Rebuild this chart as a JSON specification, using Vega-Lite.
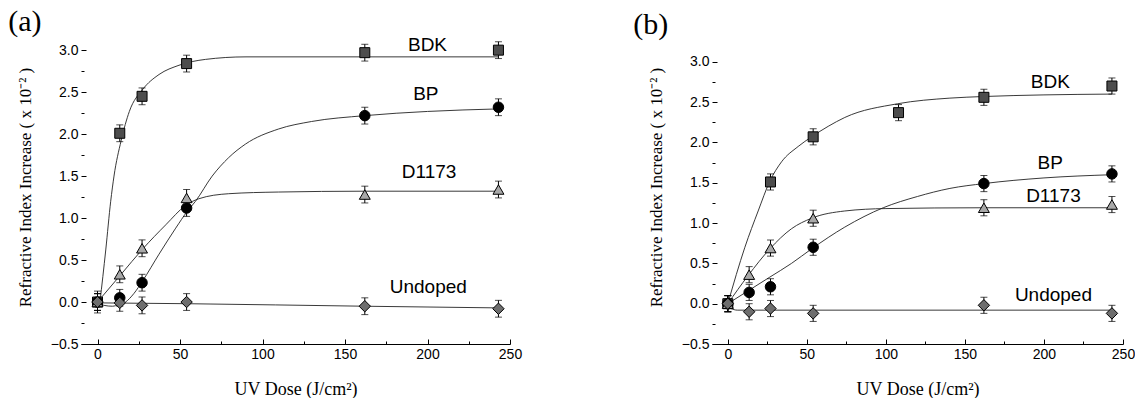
{
  "$schema": "https://vega.github.io/schema/vega-lite/v6.json",
  "background": "white",
  "padding": {"left": 8, "top": 6, "right": 0, "bottom": 0},
  "autosize": {"type": "pad"},
  "spacing": 111,
  "config": {
    "view": {"stroke": null},
    "axis": {"grid": false, "domainColor": "#000", "domainWidth": 1.2, "tickColor": "#000", "tickWidth": 1, "labelFont": "Liberation Sans", "labelFontSize": 14, "labelColor": "#000", "labelFlush": false, "titleFont": "Liberation Serif", "titleFontSize": 17, "titleFontWeight": "normal", "titleColor": "#000"}
  },
  "datasets": {
    "pts": [
      {"panel": "a", "series": "BDK", "x": 0, "y": 0, "err": 0.1},
      {"panel": "a", "series": "BDK", "x": 13.5, "y": 2.01, "err": 0.1},
      {"panel": "a", "series": "BDK", "x": 27, "y": 2.45, "err": 0.1},
      {"panel": "a", "series": "BDK", "x": 54, "y": 2.84, "err": 0.1},
      {"panel": "a", "series": "BDK", "x": 162, "y": 2.97, "err": 0.1},
      {"panel": "a", "series": "BDK", "x": 243, "y": 3.0, "err": 0.1},
      {"panel": "a", "series": "BP", "x": 0, "y": 0, "err": 0.1},
      {"panel": "a", "series": "BP", "x": 13.5, "y": 0.05, "err": 0.1},
      {"panel": "a", "series": "BP", "x": 27, "y": 0.23, "err": 0.1},
      {"panel": "a", "series": "BP", "x": 54, "y": 1.12, "err": 0.1},
      {"panel": "a", "series": "BP", "x": 162, "y": 2.22, "err": 0.1},
      {"panel": "a", "series": "BP", "x": 243, "y": 2.32, "err": 0.1},
      {"panel": "a", "series": "D1173", "x": 0, "y": 0, "err": 0.1},
      {"panel": "a", "series": "D1173", "x": 13.5, "y": 0.33, "err": 0.1},
      {"panel": "a", "series": "D1173", "x": 27, "y": 0.64, "err": 0.1},
      {"panel": "a", "series": "D1173", "x": 54, "y": 1.24, "err": 0.1},
      {"panel": "a", "series": "D1173", "x": 162, "y": 1.28, "err": 0.1},
      {"panel": "a", "series": "D1173", "x": 243, "y": 1.34, "err": 0.1},
      {"panel": "a", "series": "Undoped", "x": 0, "y": 0, "err": 0.13},
      {"panel": "a", "series": "Undoped", "x": 13.5, "y": -0.01, "err": 0.1},
      {"panel": "a", "series": "Undoped", "x": 27, "y": -0.04, "err": 0.1},
      {"panel": "a", "series": "Undoped", "x": 54, "y": 0.0, "err": 0.1},
      {"panel": "a", "series": "Undoped", "x": 162, "y": -0.05, "err": 0.1},
      {"panel": "a", "series": "Undoped", "x": 243, "y": -0.08, "err": 0.1},
      {"panel": "b", "series": "BDK", "x": 0, "y": 0, "err": 0.1},
      {"panel": "b", "series": "BDK", "x": 27, "y": 1.51, "err": 0.1},
      {"panel": "b", "series": "BDK", "x": 54, "y": 2.07, "err": 0.1},
      {"panel": "b", "series": "BDK", "x": 108, "y": 2.37, "err": 0.1},
      {"panel": "b", "series": "BDK", "x": 162, "y": 2.56, "err": 0.1},
      {"panel": "b", "series": "BDK", "x": 243, "y": 2.7, "err": 0.1},
      {"panel": "b", "series": "BP", "x": 0, "y": 0, "err": 0.1},
      {"panel": "b", "series": "BP", "x": 13.5, "y": 0.14, "err": 0.1},
      {"panel": "b", "series": "BP", "x": 27, "y": 0.21, "err": 0.1},
      {"panel": "b", "series": "BP", "x": 54, "y": 0.7, "err": 0.1},
      {"panel": "b", "series": "BP", "x": 162, "y": 1.49, "err": 0.1},
      {"panel": "b", "series": "BP", "x": 243, "y": 1.61, "err": 0.1},
      {"panel": "b", "series": "D1173", "x": 0, "y": 0, "err": 0.1},
      {"panel": "b", "series": "D1173", "x": 13.5, "y": 0.36, "err": 0.1},
      {"panel": "b", "series": "D1173", "x": 27, "y": 0.69, "err": 0.1},
      {"panel": "b", "series": "D1173", "x": 54, "y": 1.06, "err": 0.1},
      {"panel": "b", "series": "D1173", "x": 162, "y": 1.19, "err": 0.1},
      {"panel": "b", "series": "D1173", "x": 243, "y": 1.23, "err": 0.1},
      {"panel": "b", "series": "Undoped", "x": 0, "y": 0, "err": 0.1},
      {"panel": "b", "series": "Undoped", "x": 13.5, "y": -0.1, "err": 0.1},
      {"panel": "b", "series": "Undoped", "x": 27, "y": -0.06, "err": 0.1},
      {"panel": "b", "series": "Undoped", "x": 54, "y": -0.12, "err": 0.1},
      {"panel": "b", "series": "Undoped", "x": 162, "y": -0.02, "err": 0.1},
      {"panel": "b", "series": "Undoped", "x": 243, "y": -0.12, "err": 0.1}
    ],
    "fits": [
      {"panel": "a", "series": "BDK", "x": 1.5, "y": 0},
      {"panel": "a", "series": "BDK", "x": 5, "y": 0.62},
      {"panel": "a", "series": "BDK", "x": 8, "y": 1.2},
      {"panel": "a", "series": "BDK", "x": 10, "y": 1.5},
      {"panel": "a", "series": "BDK", "x": 14.3, "y": 1.92},
      {"panel": "a", "series": "BDK", "x": 19.3, "y": 2.27},
      {"panel": "a", "series": "BDK", "x": 27.3, "y": 2.53},
      {"panel": "a", "series": "BDK", "x": 37.3, "y": 2.71},
      {"panel": "a", "series": "BDK", "x": 49.4, "y": 2.82},
      {"panel": "a", "series": "BDK", "x": 65.5, "y": 2.89},
      {"panel": "a", "series": "BDK", "x": 90, "y": 2.92},
      {"panel": "a", "series": "BDK", "x": 162, "y": 2.92},
      {"panel": "a", "series": "BDK", "x": 243, "y": 2.92},
      {"panel": "a", "series": "BP", "x": 0, "y": 0},
      {"panel": "a", "series": "BP", "x": 4, "y": -0.04},
      {"panel": "a", "series": "BP", "x": 9, "y": -0.05},
      {"panel": "a", "series": "BP", "x": 13, "y": -0.03},
      {"panel": "a", "series": "BP", "x": 17, "y": 0.0},
      {"panel": "a", "series": "BP", "x": 22, "y": 0.1},
      {"panel": "a", "series": "BP", "x": 27.3, "y": 0.25},
      {"panel": "a", "series": "BP", "x": 37.3, "y": 0.57},
      {"panel": "a", "series": "BP", "x": 47.4, "y": 0.88},
      {"panel": "a", "series": "BP", "x": 54.4, "y": 1.08},
      {"panel": "a", "series": "BP", "x": 59.4, "y": 1.2},
      {"panel": "a", "series": "BP", "x": 69.5, "y": 1.5},
      {"panel": "a", "series": "BP", "x": 79.5, "y": 1.72},
      {"panel": "a", "series": "BP", "x": 89.6, "y": 1.88},
      {"panel": "a", "series": "BP", "x": 109.6, "y": 2.06},
      {"panel": "a", "series": "BP", "x": 129.7, "y": 2.15},
      {"panel": "a", "series": "BP", "x": 162, "y": 2.22},
      {"panel": "a", "series": "BP", "x": 200, "y": 2.27},
      {"panel": "a", "series": "BP", "x": 243, "y": 2.3},
      {"panel": "a", "series": "D1173", "x": 0, "y": 0},
      {"panel": "a", "series": "D1173", "x": 14.3, "y": 0.33},
      {"panel": "a", "series": "D1173", "x": 27.3, "y": 0.63},
      {"panel": "a", "series": "D1173", "x": 41.4, "y": 0.92},
      {"panel": "a", "series": "D1173", "x": 53.4, "y": 1.15},
      {"panel": "a", "series": "D1173", "x": 61.4, "y": 1.23},
      {"panel": "a", "series": "D1173", "x": 79.5, "y": 1.29},
      {"panel": "a", "series": "D1173", "x": 109.6, "y": 1.31},
      {"panel": "a", "series": "D1173", "x": 162, "y": 1.32},
      {"panel": "a", "series": "D1173", "x": 243, "y": 1.32},
      {"panel": "a", "series": "Undoped", "x": 0, "y": -0.01},
      {"panel": "a", "series": "Undoped", "x": 54, "y": -0.02},
      {"panel": "a", "series": "Undoped", "x": 162, "y": -0.05},
      {"panel": "a", "series": "Undoped", "x": 243, "y": -0.07},
      {"panel": "b", "series": "BDK", "x": 0, "y": 0},
      {"panel": "b", "series": "BDK", "x": 10.8, "y": 0.7},
      {"panel": "b", "series": "BDK", "x": 19.2, "y": 1.15},
      {"panel": "b", "series": "BDK", "x": 26.6, "y": 1.52},
      {"panel": "b", "series": "BDK", "x": 34, "y": 1.76},
      {"panel": "b", "series": "BDK", "x": 44.5, "y": 1.95},
      {"panel": "b", "series": "BDK", "x": 53, "y": 2.07},
      {"panel": "b", "series": "BDK", "x": 63.5, "y": 2.2},
      {"panel": "b", "series": "BDK", "x": 74, "y": 2.31},
      {"panel": "b", "series": "BDK", "x": 107.4, "y": 2.48},
      {"panel": "b", "series": "BDK", "x": 140.5, "y": 2.55},
      {"panel": "b", "series": "BDK", "x": 162, "y": 2.57},
      {"panel": "b", "series": "BDK", "x": 200, "y": 2.59},
      {"panel": "b", "series": "BDK", "x": 243, "y": 2.6},
      {"panel": "b", "series": "BP", "x": 0, "y": 0},
      {"panel": "b", "series": "BP", "x": 12.9, "y": 0.16},
      {"panel": "b", "series": "BP", "x": 26.6, "y": 0.33},
      {"panel": "b", "series": "BP", "x": 40.3, "y": 0.5},
      {"panel": "b", "series": "BP", "x": 53, "y": 0.68},
      {"panel": "b", "series": "BP", "x": 74, "y": 0.95},
      {"panel": "b", "series": "BP", "x": 98.3, "y": 1.19},
      {"panel": "b", "series": "BP", "x": 120, "y": 1.33},
      {"panel": "b", "series": "BP", "x": 140.5, "y": 1.43},
      {"panel": "b", "series": "BP", "x": 162, "y": 1.49},
      {"panel": "b", "series": "BP", "x": 200, "y": 1.56},
      {"panel": "b", "series": "BP", "x": 243, "y": 1.6},
      {"panel": "b", "series": "D1173", "x": 0, "y": 0},
      {"panel": "b", "series": "D1173", "x": 12.9, "y": 0.35},
      {"panel": "b", "series": "D1173", "x": 26.6, "y": 0.68},
      {"panel": "b", "series": "D1173", "x": 40.3, "y": 0.93},
      {"panel": "b", "series": "D1173", "x": 53, "y": 1.06},
      {"panel": "b", "series": "D1173", "x": 74, "y": 1.15},
      {"panel": "b", "series": "D1173", "x": 100, "y": 1.18},
      {"panel": "b", "series": "D1173", "x": 162, "y": 1.19},
      {"panel": "b", "series": "D1173", "x": 243, "y": 1.19},
      {"panel": "b", "series": "Undoped", "x": 2, "y": -0.06},
      {"panel": "b", "series": "Undoped", "x": 6, "y": -0.08},
      {"panel": "b", "series": "Undoped", "x": 243, "y": -0.08}
    ],
    "labels": [
      {"panel": "a", "label": "BDK", "x": 200, "y": 3.06},
      {"panel": "a", "label": "BP", "x": 199, "y": 2.48},
      {"panel": "a", "label": "D1173", "x": 201, "y": 1.55},
      {"panel": "a", "label": "Undoped", "x": 200.5, "y": 0.18},
      {"panel": "b", "label": "BDK", "x": 204, "y": 2.75},
      {"panel": "b", "label": "BP", "x": 204, "y": 1.75},
      {"panel": "b", "label": "D1173", "x": 206, "y": 1.34},
      {"panel": "b", "label": "Undoped", "x": 206, "y": 0.11}
    ],
    "tags": [
      {"panel": "a", "label": "(a)", "x": -44, "y": 3.34},
      {"panel": "b", "label": "(b)", "x": -48.7, "y": 3.455}
    ]
  },
  "hconcat": [
    {
      "width": 429,
      "height": 314,
      "encoding": {
        "x": {"field": "x", "type": "quantitative", "scale": {"domain": [-10, 250], "nice": false, "zero": false},
          "axis": {"title": "UV Dose (J/cm²)", "titleFontSize": 18, "values": [0, 25, 50, 75, 100, 125, 150, 175, 200, 225, 250], "labelExpr": "datum.value % 50 == 0 ? datum.label : ''", "tickSize": {"condition": {"test": "datum.value % 50 == 0", "value": -5}, "value": -3}, "labelPadding": 8, "titlePadding": 19}},
        "y": {"field": "y", "type": "quantitative", "scale": {"domain": [-0.5, 3.24], "nice": false, "zero": false},
          "axis": {"title": "Refractive Index Increase ( x 10⁻² )", "domain": false, "values": [-0.5, -0.25, 0, 0.25, 0.5, 0.75, 1, 1.25, 1.5, 1.75, 2, 2.25, 2.5, 2.75, 3], "format": ".1f", "labelExpr": "abs(datum.value * 2 - round(datum.value * 2)) < 0.001 ? datum.label : ''", "tickSize": {"condition": {"test": "abs(datum.value * 2 - round(datum.value * 2)) < 0.001", "value": -5}, "value": -3}, "labelPadding": 8, "titlePadding": 16}}
      },
      "layer": [
        {"mark": {"type": "rule", "color": "#000", "strokeWidth": 1.2}, "encoding": {"x": {"datum": -7.6}, "x2": {"datum": 250}, "y": {"datum": 3.24}}},
        {"mark": {"type": "rule", "color": "#000", "strokeWidth": 1.2}, "encoding": {"x": {"datum": 250}, "y": {"datum": -0.5}, "y2": {"datum": 3.24}}},
        {"mark": {"type": "rule", "color": "#000", "strokeWidth": 1.2}, "encoding": {"x": {"datum": -10}, "y": {"datum": -0.5}, "y2": {"datum": 2.9}}},
        {"data": {"name": "fits"}, "transform": [{"filter": "datum.panel == 'a'"}], "mark": {"type": "line", "color": "#222", "strokeWidth": 0.9, "interpolate": "monotone"}, "encoding": {"detail": {"field": "series"}}},
        {"data": {"name": "pts"}, "transform": [{"filter": "datum.panel == 'a'"}], "mark": {"type": "errorbar", "ticks": {"size": 7, "color": "#000"}, "color": "#000", "thickness": 1}, "encoding": {"yError": {"field": "err"}, "detail": {"field": "series"}}},
        {"data": {"name": "pts"}, "transform": [{"filter": "datum.panel == 'a'"}], "mark": {"type": "point", "filled": true, "stroke": "#000", "strokeWidth": 1, "opacity": 1},
          "encoding": {
            "shape": {"field": "series", "scale": {"domain": ["BDK", "BP", "D1173", "Undoped"], "range": ["square", "circle", "triangle-up", "diamond"]}, "legend": null},
            "fill": {"field": "series", "scale": {"domain": ["BDK", "BP", "D1173", "Undoped"], "range": ["#4d4d4d", "#000000", "#a8a8a8", "#6e6e6e"]}, "legend": null},
            "size": {"field": "series", "scale": {"domain": ["BDK", "BP", "D1173", "Undoped"], "range": [100, 130, 140, 140]}, "legend": null}
          }},
        {"data": {"name": "labels"}, "transform": [{"filter": "datum.panel == 'a'"}], "mark": {"type": "text", "font": "Liberation Sans", "fontSize": 19, "color": "#000"}, "encoding": {"text": {"field": "label"}}},
        {"data": {"name": "tags"}, "transform": [{"filter": "datum.panel == 'a'"}], "mark": {"type": "text", "font": "Liberation Serif", "fontSize": 30, "color": "#000", "clip": false}, "encoding": {"text": {"field": "label"}}}
      ]
    },
    {
      "width": 411,
      "height": 314,
      "encoding": {
        "x": {"field": "x", "type": "quantitative", "scale": {"domain": [-10, 250], "nice": false, "zero": false},
          "axis": {"title": "UV Dose (J/cm²)", "titleFontSize": 18, "values": [0, 25, 50, 75, 100, 125, 150, 175, 200, 225, 250], "labelExpr": "datum.value % 50 == 0 ? datum.label : ''", "tickSize": {"condition": {"test": "datum.value % 50 == 0", "value": -5}, "value": -3}, "labelPadding": 8, "titlePadding": 19}},
        "y": {"field": "y", "type": "quantitative", "scale": {"domain": [-0.5, 3.395], "nice": false, "zero": false},
          "axis": {"title": "Refractive Index Increase ( x 10⁻² )", "domain": false, "values": [-0.5, -0.25, 0, 0.25, 0.5, 0.75, 1, 1.25, 1.5, 1.75, 2, 2.25, 2.5, 2.75, 3], "format": ".1f", "labelExpr": "abs(datum.value * 2 - round(datum.value * 2)) < 0.001 ? datum.label : ''", "tickSize": {"condition": {"test": "abs(datum.value * 2 - round(datum.value * 2)) < 0.001", "value": -5}, "value": -3}, "labelPadding": 8, "titlePadding": 16}}
      },
      "layer": [
        {"mark": {"type": "rule", "color": "#000", "strokeWidth": 1.2}, "encoding": {"x": {"datum": -10}, "x2": {"datum": 250}, "y": {"datum": 3.26}}},
        {"mark": {"type": "rule", "color": "#000", "strokeWidth": 1.2}, "encoding": {"x": {"datum": 250}, "y": {"datum": -0.5}, "y2": {"datum": 3.26}}},
        {"mark": {"type": "rule", "color": "#000", "strokeWidth": 1.2}, "encoding": {"x": {"datum": -10}, "y": {"datum": -0.5}, "y2": {"datum": 3.26}}},
        {"data": {"name": "fits"}, "transform": [{"filter": "datum.panel == 'b'"}], "mark": {"type": "line", "color": "#222", "strokeWidth": 0.9, "interpolate": "monotone"}, "encoding": {"detail": {"field": "series"}}},
        {"data": {"name": "pts"}, "transform": [{"filter": "datum.panel == 'b'"}], "mark": {"type": "errorbar", "ticks": {"size": 7, "color": "#000"}, "color": "#000", "thickness": 1}, "encoding": {"yError": {"field": "err"}, "detail": {"field": "series"}}},
        {"data": {"name": "pts"}, "transform": [{"filter": "datum.panel == 'b'"}], "mark": {"type": "point", "filled": true, "stroke": "#000", "strokeWidth": 1, "opacity": 1},
          "encoding": {
            "shape": {"field": "series", "scale": {"domain": ["BDK", "BP", "D1173", "Undoped"], "range": ["square", "circle", "triangle-up", "diamond"]}, "legend": null},
            "fill": {"field": "series", "scale": {"domain": ["BDK", "BP", "D1173", "Undoped"], "range": ["#4d4d4d", "#000000", "#a8a8a8", "#6e6e6e"]}, "legend": null},
            "size": {"field": "series", "scale": {"domain": ["BDK", "BP", "D1173", "Undoped"], "range": [100, 130, 140, 140]}, "legend": null}
          }},
        {"data": {"name": "labels"}, "transform": [{"filter": "datum.panel == 'b'"}], "mark": {"type": "text", "font": "Liberation Sans", "fontSize": 19, "color": "#000"}, "encoding": {"text": {"field": "label"}}},
        {"data": {"name": "tags"}, "transform": [{"filter": "datum.panel == 'b'"}], "mark": {"type": "text", "font": "Liberation Serif", "fontSize": 30, "color": "#000", "clip": false}, "encoding": {"text": {"field": "label"}}}
      ]
    }
  ]
}
